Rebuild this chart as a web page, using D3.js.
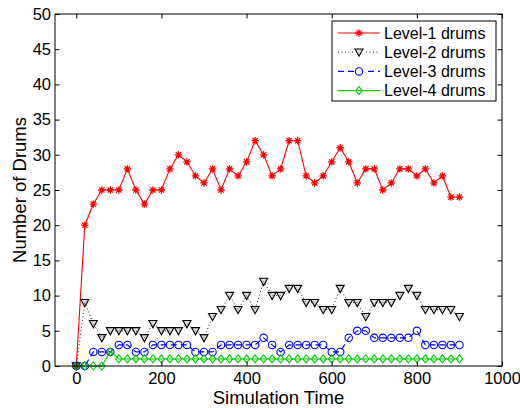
<!DOCTYPE html>
<html>
<head>
<meta charset="UTF-8">
<title>Number of Drums</title>
<script src="https://d3js.org/d3.v7.min.js"></script>
<style>
  body { margin: 0; background: #fff; }
  text { font-family: "Liberation Sans", Arial, Helvetica, sans-serif; fill: #000; }
</style>
</head>
<body>
<script>
// simulation time samples
var times = [0, 20, 40, 60, 80, 100, 120, 140, 160, 180, 200, 220, 240, 260, 280, 300,
             320, 340, 360, 380, 400, 420, 440, 460, 480, 500, 520, 540, 560, 580, 600,
             620, 640, 660, 680, 700, 720, 740, 760, 780, 800, 820, 840, 860, 880, 900];

var level1 = [0, 20, 23, 25, 25, 25, 28, 25, 23, 25, 25, 28, 30, 29, 27, 26,
              28, 25, 28, 27, 29, 32, 30, 27, 28, 32, 32, 27, 26, 27, 29,
              31, 29, 26, 28, 28, 25, 26, 28, 28, 27, 28, 26, 27, 24, 24];
var level2 = [0, 9, 6, 4, 5, 5, 5, 5, 4, 6, 5, 5, 5, 6, 5, 4,
              7, 8, 10, 8, 10, 8, 12, 10, 10, 11, 11, 9, 9, 8, 8,
              11, 9, 9, 7, 9, 9, 9, 10, 11, 10, 8, 8, 8, 8, 7];
var level3 = [0, 0, 2, 2, 2, 3, 3, 2, 2, 3, 3, 3, 3, 3, 2, 2,
              2, 3, 3, 3, 3, 3, 4, 3, 2, 3, 3, 3, 3, 3, 2,
              2, 4, 5, 5, 4, 4, 4, 4, 4, 5, 3, 3, 3, 3, 3];
var level4 = [0, 0, 0, 0, 2, 1, 1, 1, 1, 1, 1, 1, 1, 1, 1, 1,
              1, 1, 1, 1, 1, 1, 1, 1, 1, 1, 1, 1, 1, 1, 1,
              1, 1, 1, 1, 1, 1, 1, 1, 1, 1, 1, 1, 1, 1, 1];

var seriesNames = ["Level-1 drums", "Level-2 drums", "Level-3 drums", "Level-4 drums"];
var xTicks = [0, 200, 400, 600, 800, 1000];
var yTicks = [0, 5, 10, 15, 20, 25, 30, 35, 40, 45, 50];

var width = 520, height = 408;
var pLeft = 55, pRight = 502, pTop = 14, pBottom = 366;

var svg = d3.select("body").append("svg")
  .attr("width", width)
  .attr("height", height);

var x = d3.scaleLinear().domain([-50, 1000]).range([pLeft, pRight]);
var y = d3.scaleLinear().domain([0, 50]).range([pBottom, pTop]);

// markers drawn as small paths centred on 0,0
function starPath(r) {
  var d = r * 0.72;
  return "M" + (-r) + ",0L" + r + ",0M0," + (-r) + "L0," + r +
         "M" + (-d) + "," + (-d) + "L" + d + "," + d +
         "M" + (-d) + "," + d + "L" + d + "," + (-d);
}
function triPath(r) {
  return "M" + (-r) + "," + (-r * 0.8) + "L" + r + "," + (-r * 0.8) + "L0," + (r * 1.0) + "Z";
}
function diamondPath(w, h) {
  return "M0," + (-h) + "L" + w + ",0L0," + h + "L" + (-w) + ",0Z";
}

var series = [
  { name: seriesNames[0], values: level1, color: "#ff0000", dash: null, marker: "star" },
  { name: seriesNames[1], values: level2, color: "#000000", dash: "1,2.5", marker: "tri" },
  { name: seriesNames[2], values: level3, color: "#0000ff", dash: "6,4", marker: "circle" },
  { name: seriesNames[3], values: level4, color: "#00cc00", dash: null, marker: "diamond" }
];

function drawMarker(g, type, color) {
  if (type === "circle") {
    g.append("circle").attr("r", 3.7).attr("fill", "none").attr("stroke", color).attr("stroke-width", 1.1);
  } else if (type === "star") {
    g.append("path").attr("d", starPath(3.7)).attr("fill", "none").attr("stroke", color).attr("stroke-width", 1.3);
  } else if (type === "tri") {
    g.append("path").attr("d", triPath(4)).attr("fill", "#999").attr("fill-opacity", 0.35)
      .attr("stroke", color).attr("stroke-width", 1.1);
  } else {
    g.append("path").attr("d", diamondPath(3.3, 4)).attr("fill", "none").attr("stroke", color).attr("stroke-width", 1.1);
  }
}

var line = d3.line()
  .x(function(d) { return x(d[0]); })
  .y(function(d) { return y(d[1]); });

series.forEach(function(s) {
  var pts = times.map(function(t, i) { return [t, s.values[i]]; });
  svg.append("path")
    .datum(pts)
    .attr("d", line)
    .attr("fill", "none")
    .attr("stroke", s.color)
    .attr("stroke-width", s.dash === "1,2.5" ? 0.9 : 1.1)
    .attr("stroke-dasharray", s.dash);
  pts.forEach(function(p) {
    var g = svg.append("g").attr("transform", "translate(" + x(p[0]) + "," + y(p[1]) + ")");
    drawMarker(g, s.marker, s.color);
  });
});

// axes with inward ticks
var tickLen = 4.5;
var gx = svg.append("g").attr("transform", "translate(0," + pBottom + ")")
  .call(d3.axisBottom(x).tickValues(xTicks).tickFormat(d3.format("d"))
    .tickSizeInner(-tickLen).tickSizeOuter(0).tickPadding(6));
var gxt = svg.append("g").attr("transform", "translate(0," + pTop + ")")
  .call(d3.axisTop(x).tickValues(xTicks).tickSizeInner(-tickLen).tickSizeOuter(0).tickFormat(""));
var gy = svg.append("g").attr("transform", "translate(" + pLeft + ",0)")
  .call(d3.axisLeft(y).tickValues(yTicks).tickSizeInner(-tickLen).tickSizeOuter(0).tickPadding(4));
var gyr = svg.append("g").attr("transform", "translate(" + pRight + ",0)")
  .call(d3.axisRight(y).tickValues(yTicks).tickSizeInner(-tickLen).tickSizeOuter(0).tickFormat(""));

[gx, gxt, gy, gyr].forEach(function(g) {
  g.select(".domain").remove();
  g.selectAll(".tick line").attr("stroke", "#000");
  g.selectAll(".tick text")
    .style("font-family", "'Liberation Sans', Arial, Helvetica, sans-serif")
    .style("font-size", "16.5px")
    .attr("fill", "#000");
});

svg.append("rect")
  .attr("x", pLeft).attr("y", pTop)
  .attr("width", pRight - pLeft).attr("height", pBottom - pTop)
  .attr("fill", "none").attr("stroke", "#000").attr("stroke-width", 1);

// axis labels
svg.append("text")
  .attr("x", (pLeft + pRight) / 2).attr("y", 404)
  .attr("text-anchor", "middle")
  .style("font-size", "18.5px")
  .text("Simulation Time");

svg.append("text")
  .attr("transform", "translate(26," + ((pTop + pBottom) / 2) + ") rotate(-90)")
  .attr("text-anchor", "middle")
  .style("font-size", "18.5px")
  .text("Number of Drums");

// legend
var lg = svg.append("g");
lg.append("rect")
  .attr("x", 332).attr("y", 21).attr("width", 164).attr("height", 80)
  .attr("fill", "#fff").attr("stroke", "#000").attr("stroke-width", 1);

series.forEach(function(s, i) {
  var ry = 33 + i * 19.2;
  lg.append("line")
    .attr("x1", 338).attr("x2", 380).attr("y1", ry).attr("y2", ry)
    .attr("stroke", s.color)
    .attr("stroke-width", s.dash === "1,2.5" ? 0.9 : 1.1)
    .attr("stroke-dasharray", s.dash);
  var g = lg.append("g").attr("transform", "translate(359," + ry + ")");
  g.append("rect").attr("x", -5).attr("y", -5).attr("width", 10).attr("height", 10).attr("fill", "#fff")
    .attr("opacity", s.dash ? 1 : 0);
  drawMarker(g, s.marker, s.color);
  lg.append("text")
    .attr("x", 384).attr("y", ry + 5.5)
    .style("font-size", "16px")
    .text(s.name);
});
</script>
</body>
</html>
